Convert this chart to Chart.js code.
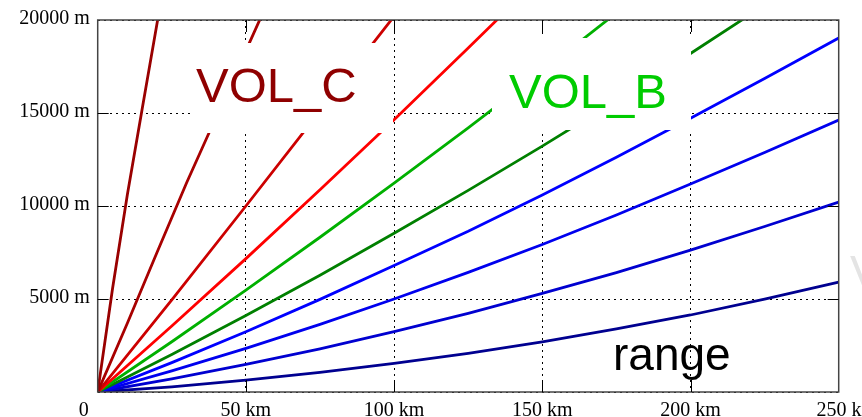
<!DOCTYPE html>
<html>
<head>
  <title>Beam height vs range</title>
  <script src="https://cdn.jsdelivr.net/npm/chart.js@4.4.0/dist/chart.umd.min.js"></script>
  <style>
    body { margin: 0; background: #fff; }
  </style>
</head>
<body>
  <canvas id="beamChart" width="862" height="417"></canvas>

  <script>
    // ranges (km) at which the heights were read
    const rangesKm = [0, 25, 50, 75, 100, 125, 150, 175, 200, 225, 250];
    const steepRangesKm = [0, 5, 10, 15, 20, 22];
    const midRangesKm = [0, 10, 20, 30, 40, 50, 60];

    // beam heights (m), steepest first
    const beam1 = [0, 5550, 10600, 15220, 19800, 21600];          // on steepRangesKm
    const beam2 = [0, 3700, 7500, 11250, 14800, 18350, 21900];    // on midRangesKm
    const beam3 = [0, 4950, 10000, 15100, 20200];
    const beam4 = [0, 3550, 7170, 10870, 14640, 18490, 22400];
    const beam5 = [0, 2700, 5480, 8320, 11230, 14200, 17250, 20380];
    const beam6 = [0, 2020, 4110, 6280, 8530, 10840, 13220, 15670, 18200, 20800];
    const beam7 = [0, 1580, 3240, 4980, 6800, 8640, 10590, 12620, 14720, 16850, 19030];
    const beam8 = [0, 1140, 2350, 3640, 5000, 6430, 7930, 9520, 11180, 12880, 14620];
    const beam9 = [0, 700, 1480, 2320, 3240, 4230, 5300, 6420, 7630, 8900, 10215];
    const beam10 = [0, 280, 640, 1060, 1540, 2080, 2700, 3390, 4140, 4990, 5910];

    const xTicks = [0, 50, 100, 150, 200, 250];
    const yTicks = [5000, 10000, 15000, 20000];

    const beams = [
      { r: steepRangesKm, h: beam1, color: '#990000' },
      { r: midRangesKm, h: beam2, color: '#a80000' },
      { r: rangesKm, h: beam3, color: '#cc0000' },
      { r: rangesKm, h: beam4, color: '#ff0000' },
      { r: rangesKm, h: beam5, color: '#00b000' },
      { r: rangesKm, h: beam6, color: '#008000' },
      { r: rangesKm, h: beam7, color: '#0000ff' },
      { r: rangesKm, h: beam8, color: '#0000ee' },
      { r: rangesKm, h: beam9, color: '#0000d0' },
      { r: rangesKm, h: beam10, color: '#000090' }
    ];

    const datasets = beams.map(b => ({
      data: b.h.map((v, i) => ({ x: b.r[i], y: v })),
      borderColor: b.color,
      borderWidth: 2.8,
      pointRadius: 0,
      tension: 0,
      clip: 0
    }));

    // labels, boxes, frame and inward ticks
    const overlay = {
      id: 'overlay',
      afterDatasetsDraw(chart) {
        const { ctx, chartArea: a, scales: { x, y } } = chart;
        ctx.save();

        // white boxes behind the volume labels
        ctx.fillStyle = '#fff';
        ctx.fillRect(190, 43, 203, 90);
        ctx.fillRect(492, 38, 199, 92);

        ctx.font = '49px "Liberation Sans", Arial, sans-serif';
        ctx.textAlign = 'left';
        ctx.textBaseline = 'alphabetic';
        ctx.fillStyle = '#8f0000';
        ctx.fillText('VOL_C', 196, 102);
        ctx.fillStyle = '#00cc00';
        ctx.fillText('VOL_B', 509, 108);

        ctx.font = '46px "Liberation Sans", Arial, sans-serif';
        ctx.fillStyle = '#000';
        ctx.fillText('range', 613, 370);

        ctx.fillStyle = '#e4e4e4';
        ctx.fillText('V', 850, 288);

        // frame
        ctx.strokeStyle = '#444';
        ctx.lineWidth = 1.5;
        ctx.strokeRect(a.left, a.top, a.right - a.left, a.bottom - a.top);

        // inward tick marks
        ctx.lineWidth = 1;
        ctx.strokeStyle = '#000';
        ctx.beginPath();
        xTicks.slice(1, -1).forEach(v => {
          const px = Math.round(x.getPixelForValue(v)) + 0.5;
          ctx.moveTo(px, a.bottom); ctx.lineTo(px, a.bottom - 12);
          ctx.moveTo(px, a.top); ctx.lineTo(px, a.top + 12);
        });
        yTicks.slice(0, -1).forEach(v => {
          const py = Math.round(y.getPixelForValue(v)) + 0.5;
          ctx.moveTo(a.left, py); ctx.lineTo(a.left + 11, py);
          ctx.moveTo(a.right, py); ctx.lineTo(a.right - 11, py);
        });
        ctx.stroke();

        // tick labels
        ctx.font = '20px "Liberation Serif", "Times New Roman", serif';
        ctx.fillStyle = '#000';
        ctx.textBaseline = 'alphabetic';
        xTicks.forEach(v => {
          const px = x.getPixelForValue(v);
          if (v === 0) {
            ctx.textAlign = 'right';
            ctx.fillText('0', px - 9, 416);
          } else {
            ctx.textAlign = 'center';
            ctx.fillText(v + ' km', px + (v === 250 ? 8 : 0), 416);
          }
        });
        ctx.textAlign = 'right';
        ctx.textBaseline = 'middle';
        yTicks.forEach(v => {
          ctx.fillText(v + ' m', a.left - 8, y.getPixelForValue(v) - 1);
        });

        ctx.restore();
      }
    };

    new Chart(document.getElementById('beamChart'), {
      type: 'line',
      data: { datasets: datasets },
      options: {
        responsive: false,
        animation: false,
        layout: { padding: { left: 97.7, right: 23.3, top: 20, bottom: 25 } },
        plugins: { legend: { display: false }, tooltip: { enabled: false } },
        scales: {
          x: {
            type: 'linear', min: 0, max: 250,
            ticks: { display: false, stepSize: 50 },
            grid: { color: '#000', lineWidth: 1, drawTicks: false },
            border: { display: false, dash: [2, 4] }
          },
          y: {
            type: 'linear', min: 0, max: 20000,
            ticks: { display: false, stepSize: 5000 },
            grid: { color: '#000', lineWidth: 1, drawTicks: false },
            border: { display: false, dash: [2, 4] }
          }
        }
      },
      plugins: [overlay]
    });
  </script>
</body>
</html>
